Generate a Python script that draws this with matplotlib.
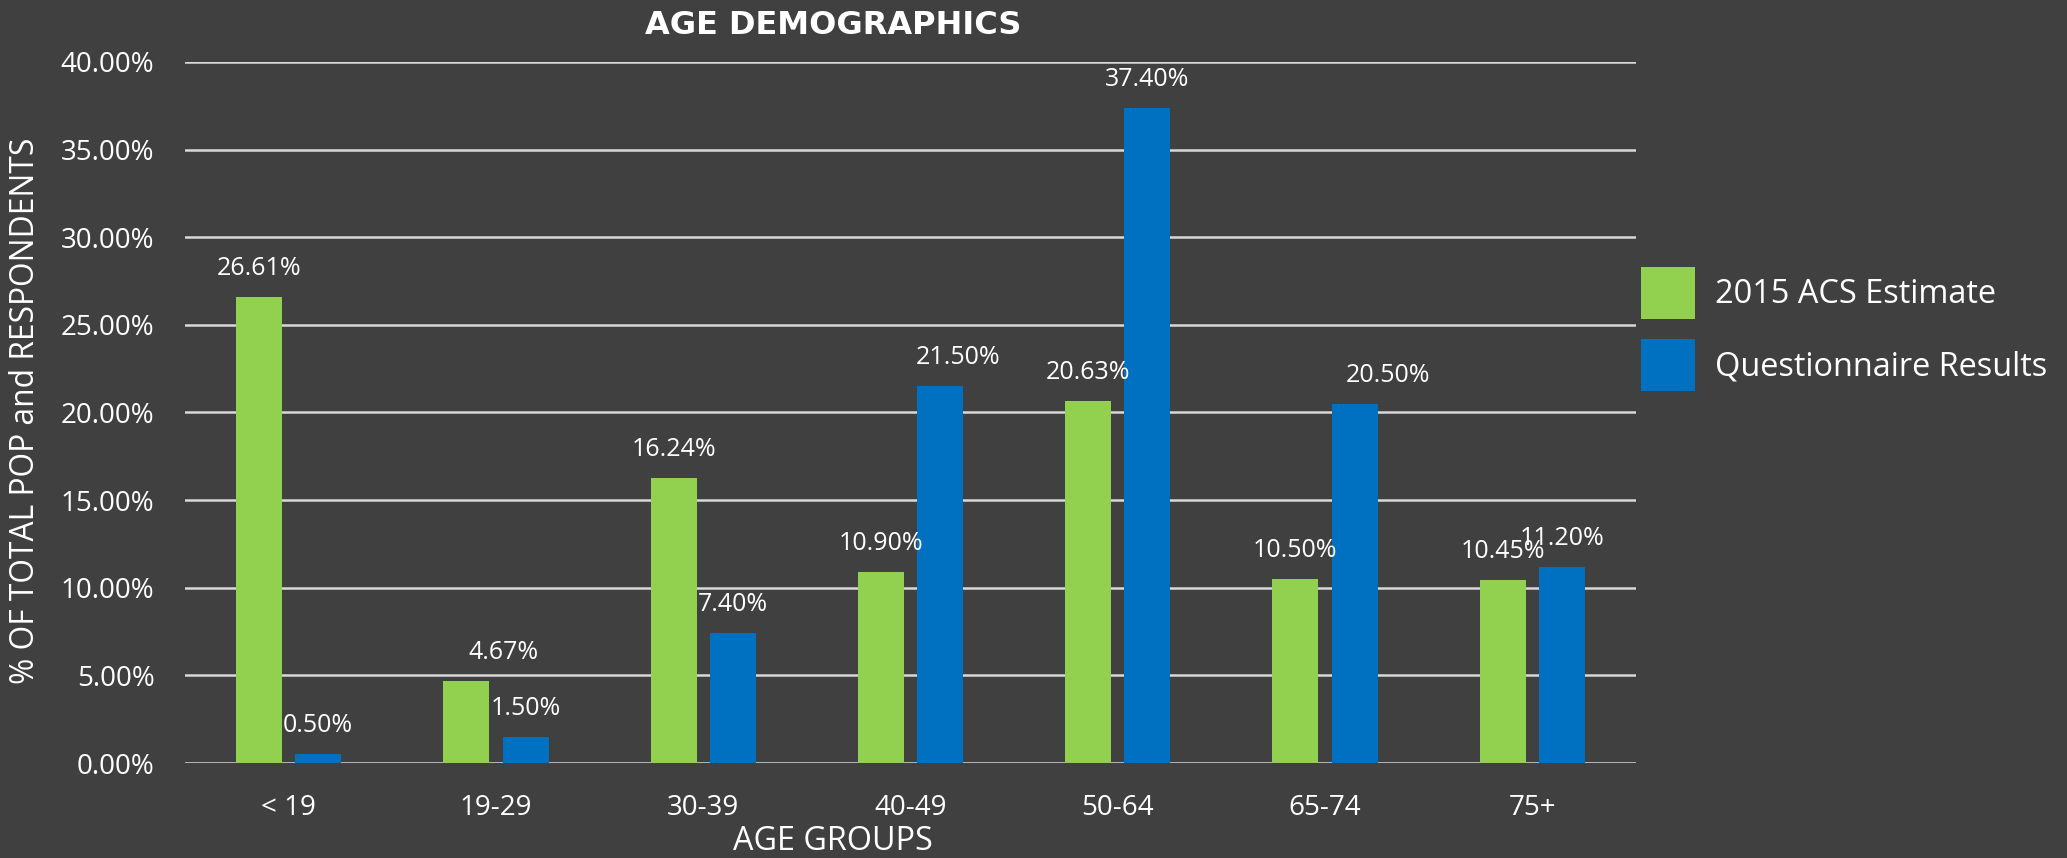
import matplotlib
matplotlib.use("Agg")
import matplotlib.pyplot as plt
import numpy as np

categories = ["< 19", "19-29", "30-39", "40-49", "50-64", "65-74", "75+"]
acs_estimate = [26.61, 4.67, 16.24, 10.90, 20.63, 10.50, 10.45]
questionnaire = [0.50, 1.50, 7.40, 21.50, 37.40, 20.50, 11.20]
series_names = ["2015 ACS Estimate", "Questionnaire Results"]
yticks = [0, 5, 10, 15, 20, 25, 30, 35, 40]

# label horizontal nudges (pixels) replicating the original label placement
acs_nudge = [0, 37, 0, 0, 0, 0, 0]
q_nudge = [0, 0, 0, 18, 0, 33, 0]

BG = "#404040"
GREEN = "#92D050"
BLUE = "#0070C0"
GRID = "#D9D9D9"
WIDE = ["Open Sans", "DejaVu Sans"]

W, H = 2067, 858
fig = plt.figure(figsize=(W / 100, H / 100), dpi=100, facecolor=BG)
ax = fig.add_axes([185 / W, 1 - 763 / H, (1636 - 185) / W, (763 - 62) / H])
ax.set_facecolor(BG)

x = np.arange(len(categories))
bw = 0.222
off = 0.143
b1 = ax.bar(x - off, acs_estimate, bw, color=GREEN, label=series_names[0], zorder=3)
b2 = ax.bar(x + off, questionnaire, bw, color=BLUE, label=series_names[1], zorder=3)

for bars, vals, nudges in ((b1, acs_estimate, acs_nudge), (b2, questionnaire, q_nudge)):
    for rect, v, n in zip(bars, vals, nudges):
        ax.annotate(f"{v:.2f}%", (rect.get_x() + rect.get_width() / 2, v),
                    xytext=(n * 0.72, 20.5), textcoords="offset points",
                    ha="center", va="center", color="white", fontsize=18,
                    family=WIDE, zorder=4)

ax.set_xlim(-0.5, len(categories) - 0.5)
ax.set_ylim(0, 40)
ax.set_yticks(yticks)
ax.set_yticklabels([f"{t:.2f}%" for t in yticks], family=WIDE, fontsize=20, color="white")
ax.set_xticks(x)
ax.set_xticklabels(categories, family=WIDE, fontsize=20, color="white")
ax.tick_params(length=0)
ax.tick_params(axis="y", pad=22)
ax.tick_params(axis="x", pad=22)
ax.yaxis.grid(True, color=GRID, linewidth=1.8, zorder=0)
ax.set_axisbelow(True)
for s in ax.spines.values():
    s.set_visible(False)

fig.text(833 / W, 1 - 26 / H, "AGE DEMOGRAPHICS", ha="center", va="center",
         fontsize=23, fontweight="bold", color="white", family=["DejaVu Sans"])
fig.text(26 / W, 1 - 411 / H, "% OF TOTAL POP and RESPONDENTS", rotation=90,
         ha="center", va="center", fontsize=22.9, color="white", family=WIDE)
fig.text(833 / W, 1 - 841 / H, "AGE GROUPS", ha="center", va="center",
         fontsize=23.3, color="white", family=WIDE)

fs = 23.4
fpx = fs / 0.72
hh = (52 / fpx - 0.245) / 0.65
leg = fig.legend(handles=[b1, b2], labels=series_names, loc="upper left",
                 bbox_to_anchor=(1641 / W, 1 - 267 / H), frameon=False,
                 borderpad=0, borderaxespad=0,
                 handlelength=54 / fpx, handleheight=hh,
                 handletextpad=20 / fpx, labelspacing=20 / fpx,
                 prop={"family": WIDE, "size": fs})
for t in leg.get_texts():
    t.set_color("white")

fig.savefig("out.png", dpi=100, facecolor=BG)
